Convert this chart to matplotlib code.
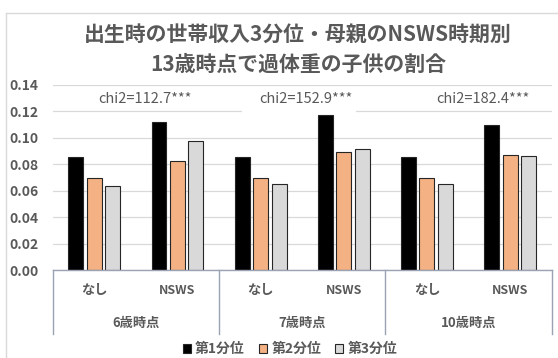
import matplotlib
matplotlib.use("Agg")
import matplotlib.pyplot as plt
import matplotlib.transforms as mtransforms
from matplotlib.patches import Patch, Rectangle
from matplotlib.lines import Line2D
import numpy as np

plt.rcParams['font.family'] = ['Noto Sans CJK JP', 'DejaVu Sans']

# ---- data ----
periods = ['6歳時点', '7歳時点', '10歳時点']
nsws_groups = ['なし', 'NSWS']
quantiles = ['第1分位', '第2分位', '第3分位']
q1_values = [0.0854, 0.1120, 0.0854, 0.1174, 0.0854, 0.1100]
q2_values = [0.0695, 0.0826, 0.0695, 0.0892, 0.0695, 0.0869]
q3_values = [0.0636, 0.0980, 0.0650, 0.0912, 0.0650, 0.0861]
chi2_labels = ['chi2=112.7***', 'chi2=152.9***', 'chi2=182.4***']
y_ticks = [0.00, 0.02, 0.04, 0.06, 0.08, 0.10, 0.12, 0.14]
title_lines = ['出生時の世帯収入3分位・母親のNSWS時期別', '13歳時点で過体重の子供の割合']

# ---- style ----
W, H = 558, 358
bar_colors = ['#000000', '#F4B183', '#D9D9D9']
edge_color = '#262626'
text_color = '#595959'
grid_color = '#D9D9D9'
axis_color = '#9AA3B3'

fig = plt.figure(figsize=(W / 100, H / 100), dpi=100)
ax = fig.add_axes([52.7 / W, 1 - 270 / H, 499 / W, 185 / H])

# chart area frame (left and top edges)
fig.add_artist(Line2D([6 / W, 6 / W], [0, 1 - 12.7 / H], color='#D9D9D9', lw=1.0,
                      transform=fig.transFigure))
fig.add_artist(Line2D([6 / W, 1], [1 - 12.7 / H, 1 - 12.7 / H], color='#D9D9D9', lw=1.0,
                      transform=fig.transFigure))

x = np.arange(len(periods) * len(nsws_groups))
bar_w = 0.18
step = 0.222
for i, (vals, col) in enumerate(zip([q1_values, q2_values, q3_values], bar_colors)):
    ax.bar(x + (i - 1) * step, vals, bar_w, color=col, edgecolor=edge_color,
           linewidth=0.8, zorder=3, label=quantiles[i])

ax.set_xlim(-0.5, len(x) - 0.5)
ax.set_ylim(0, 0.14)
ax.set_yticks(y_ticks)
ax.set_yticklabels([f'{v:.2f}' for v in y_ticks], fontsize=10, fontweight='bold',
                   color=text_color)
ax.tick_params(axis='y', length=0, pad=10)
ax.set_xticks([])
ax.yaxis.grid(True, color=grid_color, lw=0.9, zorder=0)
ax.set_axisbelow(True)
for s in ['top', 'right', 'left']:
    ax.spines[s].set_visible(False)
ax.spines['bottom'].set_color(axis_color)
ax.spines['bottom'].set_linewidth(1.0)
ax.spines['bottom'].set_zorder(4)

# multi-level category axis
trans = mtransforms.blended_transform_factory(ax.transData, ax.transAxes)
n_sub = len(nsws_groups)
for k in range(len(periods) + 1):
    xs = k * n_sub - 0.5
    ax.add_line(Line2D([xs, xs], [0, -0.346], color=axis_color, lw=1.0,
                       transform=trans, clip_on=False))
for k, per in enumerate(periods):
    for j, lab in enumerate(nsws_groups):
        ax.text(k * n_sub + j, -0.11, lab, transform=trans, ha='center', va='center',
                fontsize=9.5 if j == 0 else 9, fontweight='bold', color=text_color)
    ax.text(k * n_sub + (n_sub - 1) / 2, -0.286, per, transform=trans, ha='center',
            va='center', fontsize=9.5, fontweight='bold', color=text_color)

# chi-square annotations; the middle one sits in a white text box that hides
# part of the gridline beneath it
chi2_x = [0.61, 2.545, 4.674]
for i, (cx, lab) in enumerate(zip(chi2_x, chi2_labels)):
    if i == 1:
        box_w = 1.37
        ax.add_patch(Rectangle((cx - 0.08 - box_w / 2, 0.1165), box_w, 0.0075,
                               facecolor='white', edgecolor='none', zorder=2))
    ax.text(cx, 0.1295, lab, ha='center', va='center', fontsize=10.5,
            color=text_color, zorder=5)

# title
fig.text(298 / W, 1 - 34 / H, title_lines[0], ha='center', va='center', fontsize=15,
         fontweight='bold', color=text_color)
fig.text(298 / W, 1 - 64 / H, title_lines[1], ha='center', va='center', fontsize=15,
         fontweight='bold', color=text_color)

# legend
handles = [Patch(facecolor=c, edgecolor=edge_color, linewidth=0.8) for c in bar_colors]
leg = fig.legend(handles, quantiles, loc='center', bbox_to_anchor=(290 / W, 1 - 349 / H),
                 ncol=3, frameon=False, handlelength=0.6, handleheight=0.6,
                 handletextpad=0.3, columnspacing=1.0,
                 prop=dict(size=10, weight='bold'))
for t in leg.get_texts():
    t.set_color(text_color)

fig.savefig('out.png', dpi=100)
